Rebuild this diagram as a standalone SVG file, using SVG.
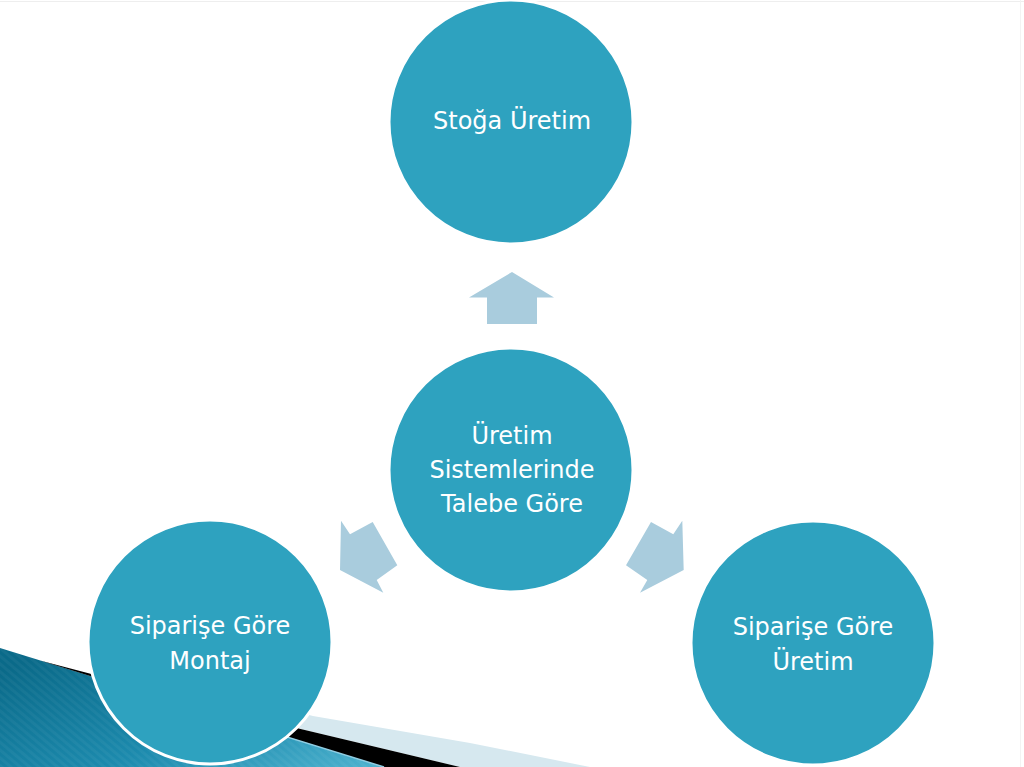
<svg xmlns="http://www.w3.org/2000/svg" width="1024" height="767" viewBox="0 0 1024 767">
<defs>
<linearGradient id="teal" x1="0" y1="0.2" x2="1" y2="1">
<stop offset="0" stop-color="#0A6A89"/>
<stop offset="0.55" stop-color="#1C8AAD"/>
<stop offset="1" stop-color="#4EB3CF"/>
</linearGradient>
<pattern id="stripes" width="6" height="6" patternUnits="userSpaceOnUse" patternTransform="rotate(-50)">
<rect width="3" height="6" fill="#ffffff" fill-opacity="0.04"/>
</pattern>
</defs>
<style>
.node{fill:#2EA2BF;stroke:#ffffff;stroke-width:3}
.lbl{font-family:"DejaVu Sans","Verdana",sans-serif;font-size:24px;fill:#ffffff;text-anchor:middle}
.arrow{fill:#A9CCDD}
</style>
<rect width="1024" height="767" fill="#ffffff"/>
<line x1="0" y1="1.5" x2="1024" y2="1.5" stroke="#EEEEEE" stroke-width="1"/>
<line x1="1020.5" y1="0" x2="1020.5" y2="767" stroke="#F3F3F3" stroke-width="1"/>
<g id="decoration">
<polygon points="250,700 313,716 470,743 590,767 460,767 301.7,729.3" fill="#D6E8EF"/>
<polygon points="0,648 384,767 0,767" fill="url(#teal)"/>
<polygon points="0,648 384,767 0,767" fill="url(#stripes)"/>
<polygon points="40,660.4 301.7,729.3 460,767 384,767" fill="#000000"/>
<line x1="150" y1="694.5" x2="384" y2="767" stroke="#8FCDE2" stroke-width="1.5"/>
</g>
<g id="connectors">
<polygon class="arrow" points="512,272 554,297.5 537,297.5 537,324 487,324 487,297.5 469,297.5"/>
<polygon class="arrow" points="341,520.7 350,534.3 372.7,522 397.3,565.3 376.7,580 383.3,592.7 340,570"/>
<polygon class="arrow" points="682.3,520.7 673.3,534.3 651,522 626,565.3 647.3,580 640,592.7 683.7,570"/>
</g>
<g id="node-top">
<circle class="node" cx="511" cy="122" r="122"/>
<text class="lbl" x="512" y="129">Stoğa Üretim</text>
</g>
<g id="node-center">
<circle class="node" cx="511" cy="470" r="122"/>
<text class="lbl" x="512" y="444">Üretim</text>
<text class="lbl" x="512" y="478">Sistemlerinde</text>
<text class="lbl" x="512" y="512">Talebe Göre</text>
</g>
<g id="node-left">
<circle class="node" cx="210" cy="642" r="122"/>
<text class="lbl" x="210" y="634">Siparişe Göre</text>
<text class="lbl" x="210" y="669">Montaj</text>
</g>
<g id="node-right">
<circle class="node" cx="813" cy="643" r="122"/>
<text class="lbl" x="813" y="635">Siparişe Göre</text>
<text class="lbl" x="813" y="670">Üretim</text>
</g>
</svg>
